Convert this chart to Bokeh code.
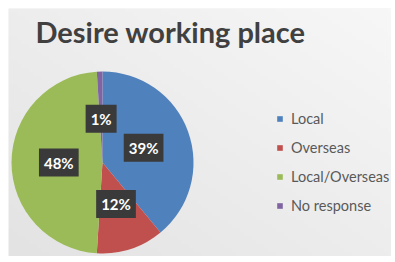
import math
import numpy as np
from bokeh.plotting import figure
from bokeh.models import Range1d, Label, Legend, LegendItem, ColumnDataSource
from bokeh.core.properties import value
from bokeh.embed import file_html
from bokeh.resources import INLINE

title = "Desire working place"
categories = ["Local", "Overseas", "Local/Overseas", "No response"]
shares = [39, 12, 48, 1]
colors = ["#4F81BD", "#C0504D", "#9BBB59", "#8064A2"]

W, H = 383, 248
p = figure(width=W + 8, height=H + 8, output_backend="svg", toolbar_location=None,
           x_range=Range1d(0, W), y_range=Range1d(0, H),
           min_border_left=8, min_border_top=8, min_border_right=0, min_border_bottom=0,
           background_fill_color="#efefef", border_fill_color="white")
p.axis.visible = False
p.grid.visible = False
p.outline_line_color = None

# subtle background gradient (lighter top-right, darker bottom-left)
gx, gy = np.meshgrid(np.linspace(0, 1, 96), np.linspace(0, 1, 62))
shade = (247 - 20 * (0.5 * (1 - gx) + 0.5 * (1 - gy))).astype(np.uint32)
img = (255 << 24) | (shade << 16) | (shade << 8) | shade
p.image_rgba(image=[img.astype(np.uint32)], x=0, y=0, dw=W, dh=H)

cx, cy, r = 94, 94, 91
total = sum(shares)
starts, ends, lx, ly, labels = [], [], [], [], []
acc = 0.0
for s in shares:
    a0 = math.pi / 2 - 2 * math.pi * acc / total
    a1 = math.pi / 2 - 2 * math.pi * (acc + s) / total
    starts.append(a0)
    ends.append(a1)
    mid = (a0 + a1) / 2
    lx.append(cx + 0.48 * r * math.cos(mid))
    ly.append(cy + 0.48 * r * math.sin(mid))
    labels.append(f"{s}%")
    acc += s

src = ColumnDataSource(dict(start=starts, end=ends, color=colors, cat=categories,
                            lx=lx, ly=ly, label=labels))
w = p.wedge(x=cx, y=cy, radius=r, start_angle="start", end_angle="end",
            direction="clock", fill_color="color", line_color=None, source=src)

p.text(x="lx", y="ly", text="label", source=src, text_color="white",
       text_font=value("Lato"), text_font_style="bold", text_font_size="15px",
       text_align="center", text_baseline="middle",
       background_fill_color="#3a3a3a", padding=5)

p.add_layout(Label(x=27, y=225, x_units="screen", y_units="screen", text=title,
                   text_font="Lato", text_font_style="bold", text_font_size="29px",
                   text_color="#404040", text_baseline="alphabetic"))

items = [LegendItem(label=c, renderers=[w], index=i) for i, c in enumerate(categories)]
legend = Legend(items=items, location=(268, 42), orientation="vertical",
                glyph_width=7, glyph_height=7, label_height=14, spacing=12,
                label_standoff=8, padding=0, margin=0,
                border_line_alpha=0, background_fill_alpha=0,
                label_text_font="Lato", label_text_font_size="14.5px",
                label_text_color="#595959")
p.add_layout(legend)

open("out.html", "w").write(file_html(p, INLINE))
